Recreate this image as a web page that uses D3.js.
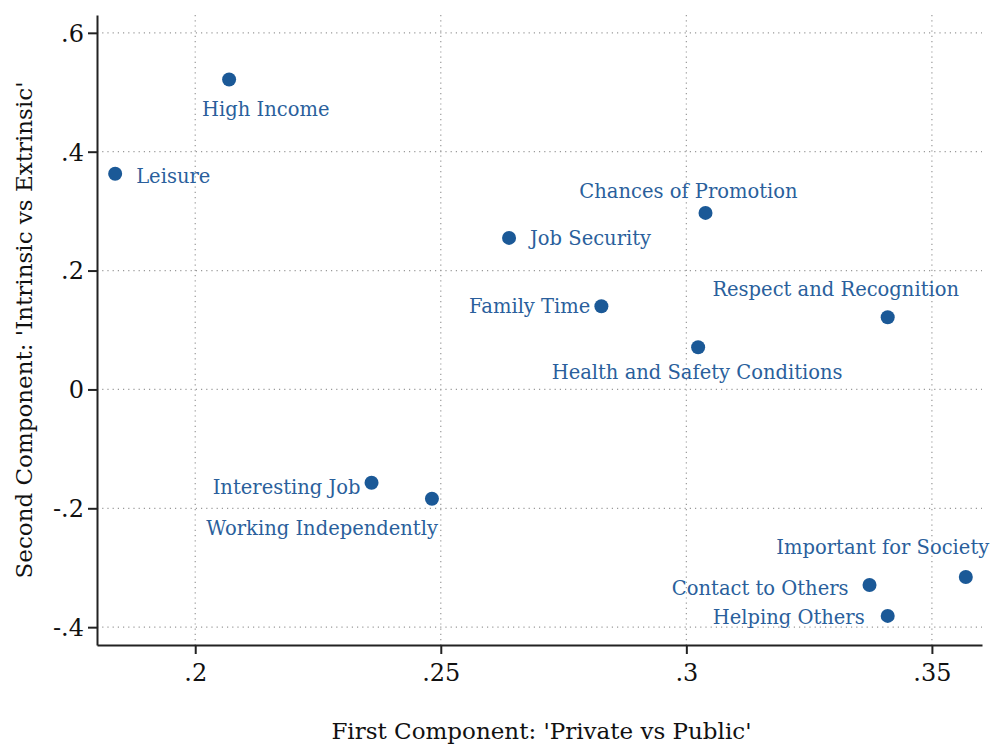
<!DOCTYPE html>
<html>
<head>
<meta charset="utf-8">
<script src="https://cdn.jsdelivr.net/npm/d3@7"></script>
<style>
  body { margin: 0; background: #fff; }
  svg text { font-family: "DejaVu Serif", serif; }
</style>
</head>
<body>
<svg width="992" height="745"></svg>
<script>
// job attribute loadings on the first two components
var labels = ["High Income", "Leisure", "Chances of Promotion", "Job Security", "Family Time",
              "Respect and Recognition", "Health and Safety Conditions", "Interesting Job",
              "Working Independently", "Important for Society", "Contact to Others", "Helping Others"];
var comp1 = [0.2069, 0.1837, 0.3039, 0.2639, 0.2827, 0.3410, 0.3024, 0.2359, 0.2482, 0.3569, 0.3373, 0.3410];
var comp2 = [0.5215, 0.3630, 0.2970, 0.2550, 0.1400, 0.1215, 0.0709, -0.1570, -0.1840, -0.3156, -0.3290, -0.3810];
var xTicks = [0.2, 0.25, 0.3, 0.35];
var yTicks = [-0.4, -0.2, 0, 0.2, 0.4, 0.6];

// label placement, [anchor, dx, dy] per point
var labelPos = [["start", -27, 30], ["start", 21, 2], ["middle", -17, -22], ["start", 21, 0],
                ["end", -11, 0], ["middle", -52, -28], ["middle", -1, 25], ["end", -11, 4],
                ["end", 6, 29], ["middle", -83, -30], ["end", -21, 3], ["end", -23, 1]];

var svg = d3.select("svg"),
    margin = {top: 15, right: 10, bottom: 100, left: 97},
    width = +svg.attr("width") - margin.left - margin.right,
    height = +svg.attr("height") - margin.top - margin.bottom,
    g = svg.append("g").attr("transform", "translate(" + margin.left + "," + margin.top + ")");

var x = d3.scaleLinear().domain([0.18, 0.3602]).range([0, width]);
var y = d3.scaleLinear().domain([-0.430, 0.630]).range([height, 0]);

var fmt = function(d) { return d === 0 ? "0" : String(d).replace("0.", "."); };

// grid
g.selectAll(".gx").data(xTicks).enter().append("line")
    .attr("x1", function(d) { return x(d); }).attr("x2", function(d) { return x(d); })
    .attr("y1", 0).attr("y2", height)
    .attr("stroke", "#999").attr("stroke-width", 1.2).attr("stroke-dasharray", "1.2,4");
g.selectAll(".gy").data(yTicks).enter().append("line")
    .attr("y1", function(d) { return y(d); }).attr("y2", function(d) { return y(d); })
    .attr("x1", 0).attr("x2", width)
    .attr("stroke", "#999").attr("stroke-width", 1.2).attr("stroke-dasharray", "1.2,4");

// axes
var xAxis = g.append("g")
    .attr("transform", "translate(0," + height + ")")
    .call(d3.axisBottom(x).tickValues(xTicks).tickFormat(fmt).tickSize(9).tickPadding(10).tickSizeOuter(0));
var yAxis = g.append("g")
    .call(d3.axisLeft(y).tickValues(yTicks).tickFormat(fmt).tickSize(9).tickPadding(4).tickSizeOuter(0));
[xAxis, yAxis].forEach(function(a) {
    a.attr("font-family", null);
    a.select(".domain").attr("stroke", "#222").attr("stroke-width", 2);
    a.selectAll(".tick line").attr("stroke", "#222").attr("stroke-width", 2);
    a.selectAll("text").attr("font-size", 24).attr("fill", "#111");
});
yAxis.selectAll("text").attr("dy", "0.35em");

// points
g.selectAll(".dot").data(labels).enter().append("circle")
    .attr("cx", function(d, i) { return x(comp1[i]); })
    .attr("cy", function(d, i) { return y(comp2[i]); })
    .attr("r", 7)
    .attr("fill", "#1b5997");

g.selectAll(".lab").data(labels).enter().append("text")
    .attr("x", function(d, i) { return x(comp1[i]) + labelPos[i][1]; })
    .attr("y", function(d, i) { return y(comp2[i]) + labelPos[i][2]; })
    .attr("dy", "0.35em")
    .attr("text-anchor", function(d, i) { return labelPos[i][0]; })
    .attr("font-size", 19.5)
    .attr("fill", "#2a5f9c")
    .text(function(d) { return d; });

// titles
svg.append("text")
    .attr("x", margin.left + x(0.2705)).attr("y", 739)
    .attr("text-anchor", "middle").attr("font-size", 23).attr("fill", "#111")
    .text("First Component: 'Private vs Public'");
svg.append("text")
    .attr("transform", "translate(32," + (margin.top + y(0.1)) + ") rotate(-90)")
    .attr("text-anchor", "middle").attr("font-size", 23).attr("fill", "#111")
    .text("Second Component: 'Intrinsic vs Extrinsic'");
</script>
</body>
</html>
